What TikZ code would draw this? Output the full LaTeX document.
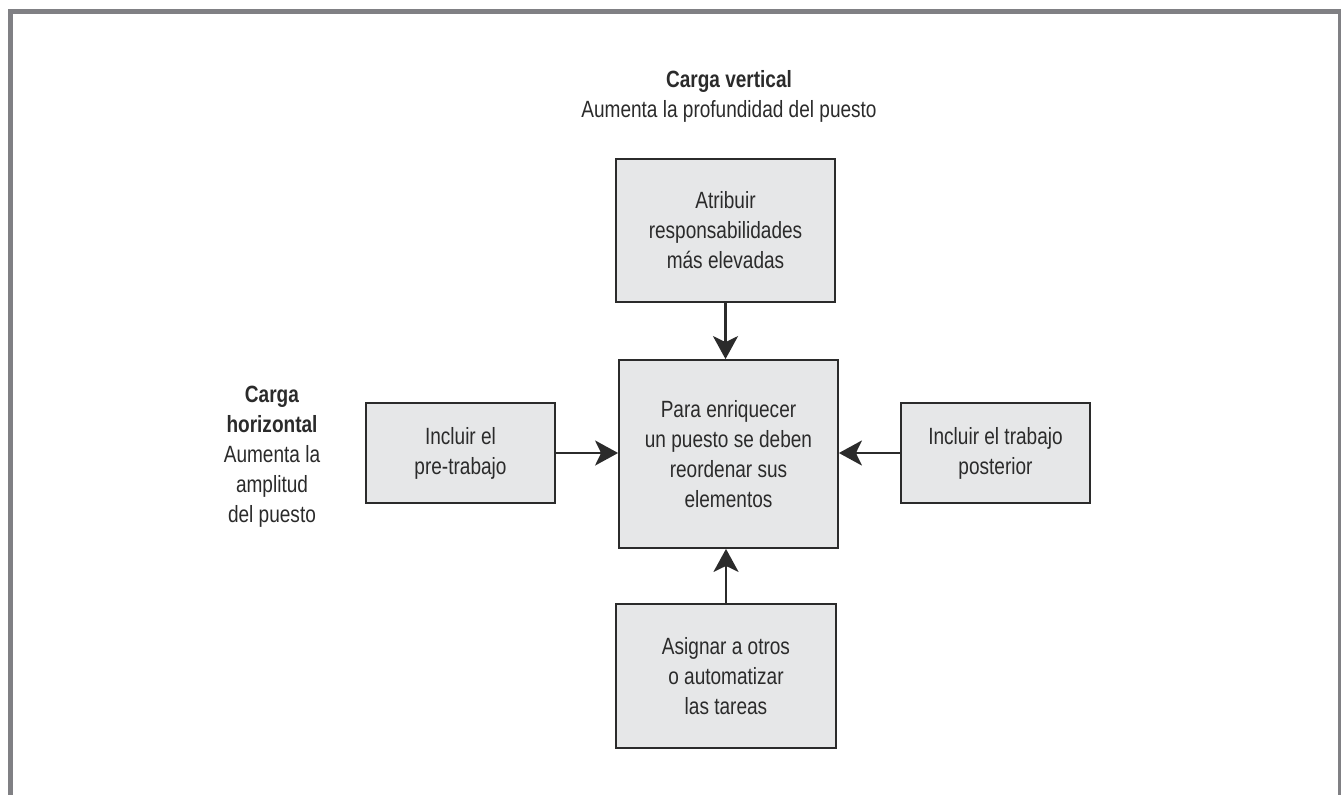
\documentclass[tikz,border=0pt]{standalone}
\usepackage{fontspec}
\setmainfont{Liberation Sans}[FakeStretch=0.81]
\usetikzlibrary{arrows.meta}
\definecolor{framegray}{HTML}{808084}
\definecolor{boxgray}{HTML}{E6E7E8}
\definecolor{inkgray}{HTML}{2B2B2B}
\begin{document}
\begin{tikzpicture}[x=1pt,y=-1pt,
  txt/.style={font=\fontsize{23.5}{30}\selectfont, text=inkgray, align=center, inner sep=0pt},
  boxnode/.style={txt, draw=inkgray, line width=1.8pt, fill=boxgray, anchor=center},
  arr/.style={draw=inkgray, line width=2.4pt, -{Stealth[length=23pt,width=25pt,inset=6pt]}}]
\useasboundingbox (0,0) rectangle (1341,795);
\fill[white] (0,0) rectangle (1341,795);
% frame
\fill[framegray] (8,9) rectangle (13,795);
\fill[framegray] (8,9) rectangle (1341,14);
\fill[framegray] (1338,9) rectangle (1341,795);
% titles
\node[txt, anchor=base] (tv) at (729,87) {\textbf{Carga vertical}};
\node[txt, anchor=base] (tvs) at (729,117) {Aumenta la profundidad del puesto};
\node[txt] (th) at (272,457) {\textbf{Carga}\\\textbf{horizontal}\\Aumenta la\\amplitud\\del puesto};
% boxes
\node[boxnode, minimum width=219pt, minimum height=143pt] (top) at (725.5,230.5) {Atribuir\\responsabilidades\\más elevadas};
\node[boxnode, minimum width=219pt, minimum height=188pt] (center) at (728.5,454) {Para enriquecer\\un puesto se deben\\reordenar sus\\elementos};
\node[boxnode, minimum width=220pt, minimum height=144pt] (bottom) at (726,676) {Asignar a otros\\o automatizar\\las tareas};
\node[boxnode, minimum width=189pt, minimum height=100pt] (left) at (460.5,453) {Incluir el\\pre-trabajo};
\node[boxnode, minimum width=189pt, minimum height=100pt] (right) at (995.5,453) {Incluir el trabajo\\posterior};
% arrows
\draw[arr] (top.south) -- (top.south |- center.north);
\draw[arr] (bottom.north) -- (bottom.north |- center.south);
\draw[arr] (left.east) -- (left.east -| center.west);
\draw[arr] (right.west) -- (right.west -| center.east);
\end{tikzpicture}
\end{document}
